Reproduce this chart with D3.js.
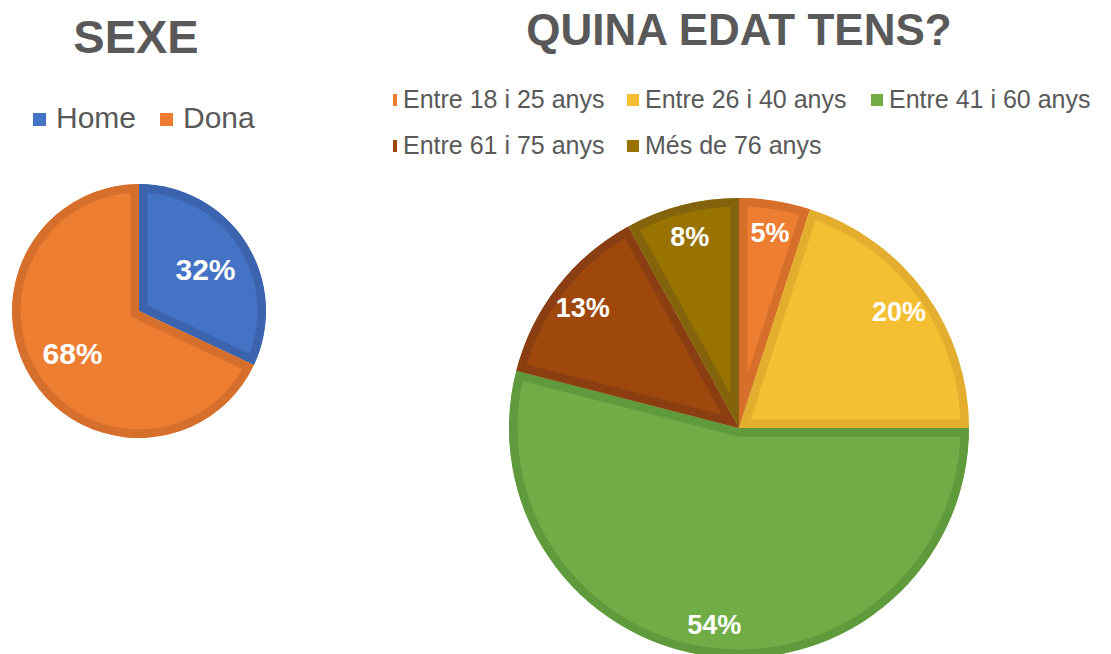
<!DOCTYPE html>
<html>
<head>
<meta charset="utf-8">
<script src="https://cdn.jsdelivr.net/npm/d3@7"></script>
<style>
  html, body { margin: 0; padding: 0; background: #fff; }
  svg { display: block; font-family: "Liberation Sans", Arial, sans-serif; }
</style>
</head>
<body>
<svg id="chart" width="1111" height="654"></svg>
<script>
// ---- data ----
const sexTitle = "SEXE";
const sexCategories = ["Home", "Dona"];
const sexValues = [32, 68];
const sexColors = ["#4472C4", "#ED7D31"];
const sexBorders = ["#3B63AE", "#D56F2B"];

const ageTitle = "QUINA EDAT TENS?";
const ageCategories = ["Entre 18 i 25 anys", "Entre 26 i 40 anys", "Entre 41 i 60 anys", "Entre 61 i 75 anys", "Més de 76 anys"];
const ageValues = [5, 20, 54, 13, 8];
const ageColors = ["#ED7D31", "#F4BF33", "#70AD47", "#9E480E", "#997300"];
const ageBorders = ["#D66F2A", "#E3AD2D", "#5F9B3D", "#8A3E12", "#83640C"];

const svg = d3.select("#chart");
const textColor = "#595959";

function drawPie(opts) {
  const { cx, cy, R, values, colors, borders, labelFactor, fontSize, id } = opts;
  const pie = d3.pie().sort(null).value(d => d);
  const arcs = pie(values);
  const arc = d3.arc().innerRadius(0).outerRadius(R);
  const labelArc = d3.arc().innerRadius(R * labelFactor).outerRadius(R * labelFactor);
  const g = svg.append("g").attr("transform", `translate(${cx},${cy})`);
  const defs = svg.append("defs");
  arcs.forEach((a, i) => {
    defs.append("clipPath").attr("id", `${id}-clip-${i}`)
      .append("path").attr("d", arc(a));
    g.append("path")
      .attr("d", arc(a))
      .attr("fill", colors[i])
      .attr("stroke", borders[i])
      .attr("stroke-width", 17)
      .attr("stroke-linejoin", "miter")
      .attr("clip-path", `url(#${id}-clip-${i})`);
  });
  g.selectAll("text.lbl").data(arcs).enter().append("text")
    .attr("class", "lbl")
    .attr("transform", d => `translate(${labelArc.centroid(d)})`)
    .attr("text-anchor", "middle")
    .attr("dy", "0.36em")
    .attr("fill", "#ffffff")
    .attr("font-weight", "bold")
    .attr("font-size", fontSize)
    .text(d => d.data + "%");
}

// ---- titles ----
svg.append("text").attr("x", 136).attr("y", 53)
  .attr("text-anchor", "middle").attr("font-size", 47).attr("font-weight", "bold")
  .attr("fill", textColor).text(sexTitle);
svg.append("text").attr("x", 739).attr("y", 45)
  .attr("text-anchor", "middle").attr("font-size", 44).attr("font-weight", "bold")
  .attr("fill", textColor).text(ageTitle);

// ---- left legend ----
const sexLegendX = [33, 160];
sexCategories.forEach((c, i) => {
  svg.append("rect").attr("x", sexLegendX[i]).attr("y", 113).attr("width", 13).attr("height", 13)
    .attr("fill", sexColors[i]);
  svg.append("text").attr("x", sexLegendX[i] + 23).attr("y", 128)
    .attr("font-size", 30).attr("fill", textColor).text(c);
});

// ---- right legend ----
const defs0 = svg.append("defs");
defs0.append("clipPath").attr("id", "legclip")
  .append("rect").attr("x", 393).attr("y", 80).attr("width", 718).attr("height", 80);
const legG = svg.append("g").attr("clip-path", "url(#legclip)");
const ageLegendPos = [[385, 0], [627, 0], [871, 0], [385, 1], [627, 1]];
ageCategories.forEach((c, i) => {
  const [x, row] = ageLegendPos[i];
  const y = row === 0 ? 100 : 146;
  legG.append("rect").attr("x", x).attr("y", y - 6).attr("width", 12).attr("height", 12)
    .attr("fill", ageColors[i]);
  legG.append("text").attr("x", x + 18).attr("y", y + 8)
    .attr("font-size", 25).attr("fill", textColor).text(c);
});

// ---- pies ----
drawPie({ cx: 139, cy: 311, R: 127, values: sexValues, colors: sexColors, borders: sexBorders,
  labelFactor: 0.62, fontSize: 30, id: "sex" });
drawPie({ cx: 739, cy: 428, R: 230, values: ageValues, colors: ageColors, borders: ageBorders,
  labelFactor: 0.86, fontSize: 27, id: "age" });
</script>
</body>
</html>
